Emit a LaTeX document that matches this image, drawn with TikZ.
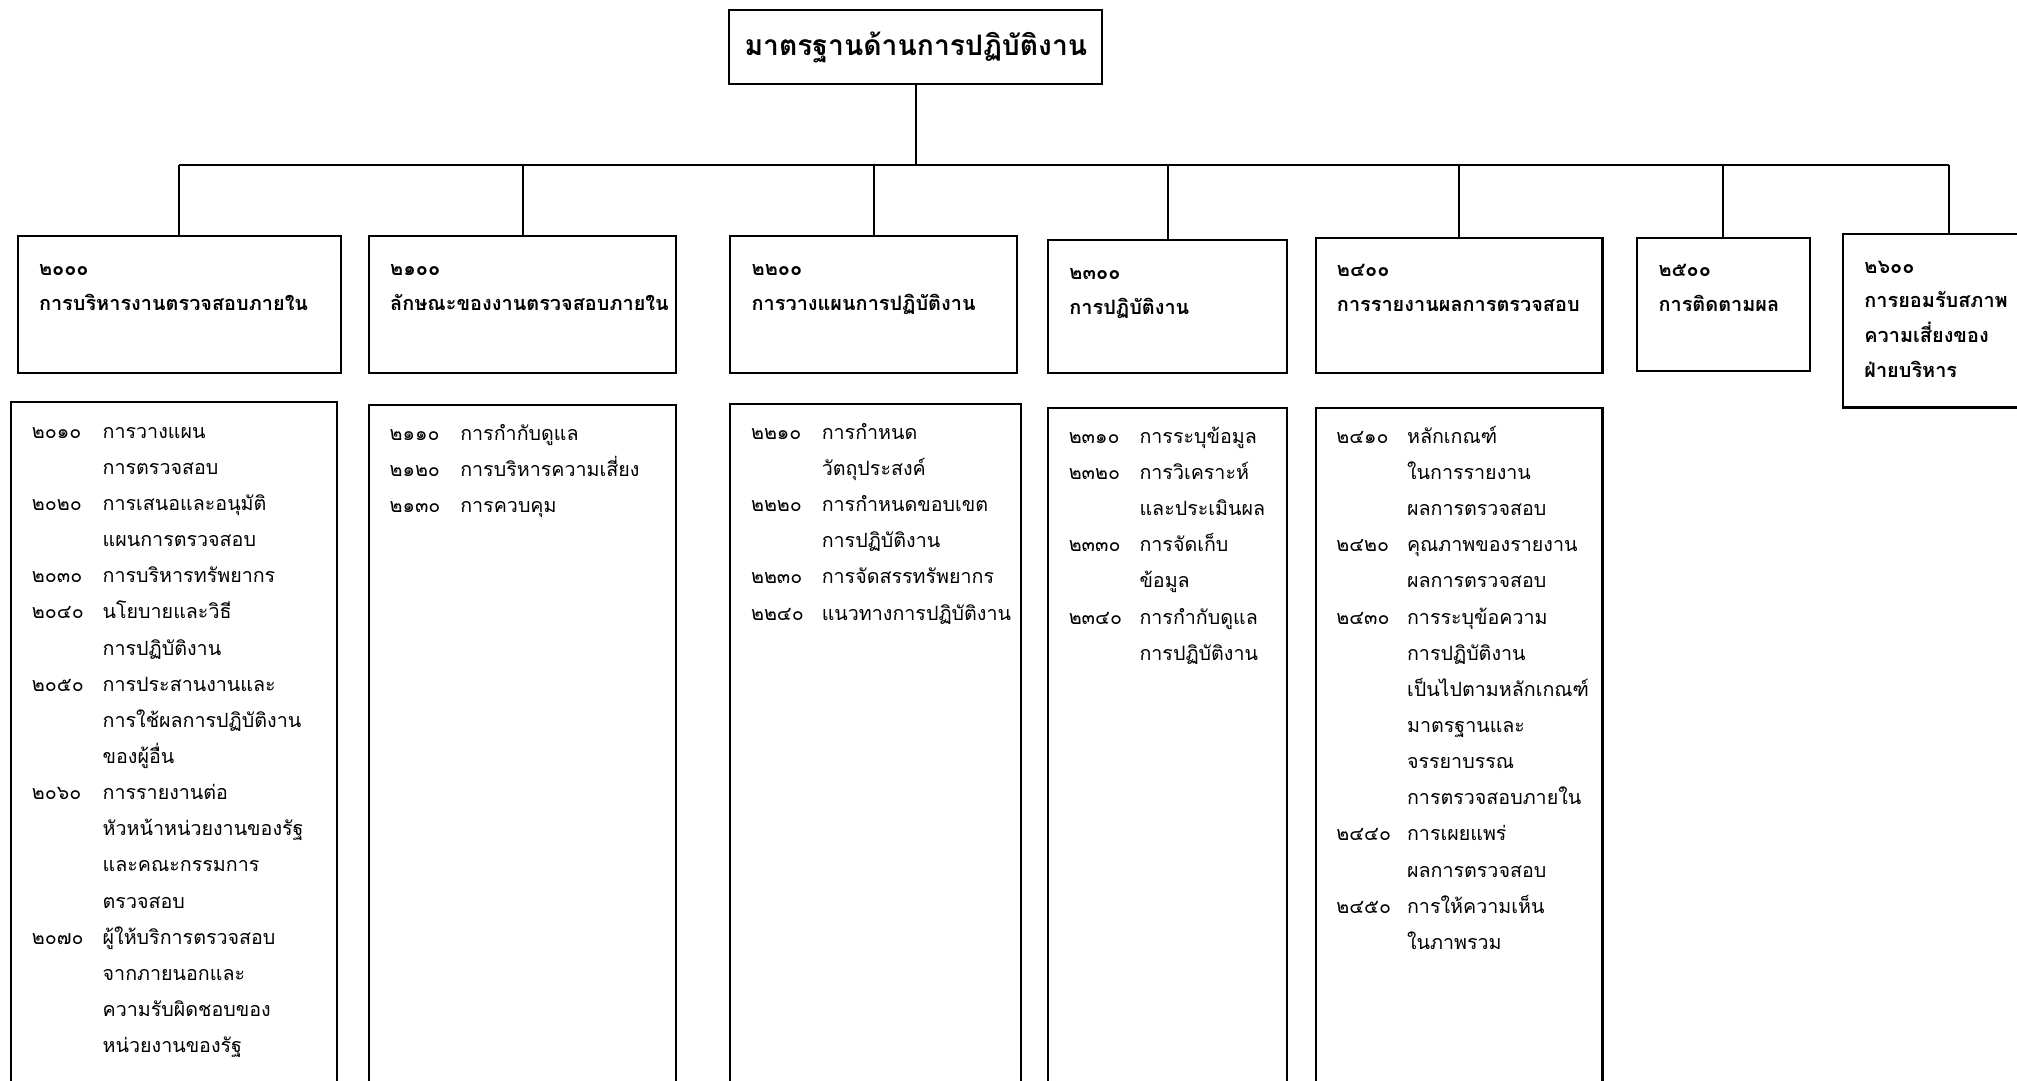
\documentclass[tikz,border=0pt]{standalone}
\usepackage{fontspec}
\newfontfamily\thai[Script=Thai]{Loma}
\usetikzlibrary{positioning}

\tikzset{
    conn/.style={line width=0.9pt},
    headbox/.style={draw, line width=0.9pt, minimum width=5.8cm, minimum height=1.14cm, inner sep=0pt,
        font=\thai\bfseries\fontsize{12.5}{16}\selectfont},
    upbox/.style={draw, line width=0.9pt, anchor=north west, inner sep=0pt},
    lowbox/.style={draw, line width=0.9pt, anchor=north west, inner sep=0pt, minimum height=12cm},
    uptext/.style={anchor=north west, inner sep=0pt, xshift=0.34cm, yshift=-0.24cm,
        font=\thai\bfseries\fontsize{8.8}{15.4}\selectfont},
    lowtext/.style={anchor=north west, inner sep=0pt, xshift=0.33cm, yshift=-0.17cm,
        font=\thai\fontsize{8.7}{16}\selectfont},
}

\begin{document}
\begin{tikzpicture}[x=0.02cm, y=-0.02cm]
    \useasboundingbox (0,0) rectangle (1568,840);
    \clip (0,0) rectangle (1568,840);

    % top of the tree
    \node[headbox] (head) at (712,36.5) {มาตรฐานด้านการปฏิบัติงาน};

    % upper row
    \node[upbox, minimum width=5.02cm, minimum height=2.12cm] (b2000) at (13,183) {};
    \node[upbox, minimum width=4.78cm, minimum height=2.12cm] (b2100) at (286,183) {};
    \node[upbox, minimum width=4.46cm, minimum height=2.12cm] (b2200) at (567,183) {};
    \node[upbox, minimum width=3.72cm, minimum height=2.06cm] (b2300) at (814,186) {};
    \node[upbox, minimum width=4.46cm, minimum height=2.10cm] (b2400) at (1022,184) {};
    \node[upbox, minimum width=2.68cm, minimum height=2.08cm] (b2500) at (1272,184) {};
    \node[upbox, minimum width=3.28cm, minimum height=2.70cm] (b2600) at (1432,181) {};

    \node[uptext] (t2000) at (b2000.north west) {\begin{tabular}{@{}l@{}}๒๐๐๐\\การบริหารงานตรวจสอบภายใน\end{tabular}};
    \node[uptext] (t2100) at (b2100.north west) {\begin{tabular}{@{}l@{}}๒๑๐๐\\ลักษณะของงานตรวจสอบภายใน\end{tabular}};
    \node[uptext] (t2200) at (b2200.north west) {\begin{tabular}{@{}l@{}}๒๒๐๐\\การวางแผนการปฏิบัติงาน\end{tabular}};
    \node[uptext] (t2300) at (b2300.north west) {\begin{tabular}{@{}l@{}}๒๓๐๐\\การปฏิบัติงาน\end{tabular}};
    \node[uptext] (t2400) at (b2400.north west) {\begin{tabular}{@{}l@{}}๒๔๐๐\\การรายงานผลการตรวจสอบ\end{tabular}};
    \node[uptext] (t2500) at (b2500.north west) {\begin{tabular}{@{}l@{}}๒๕๐๐\\การติดตามผล\end{tabular}};
    \node[uptext] (t2600) at (b2600.north west) {\begin{tabular}{@{}l@{}}๒๖๐๐\\การยอมรับสภาพ\\ความเสี่ยงของ\\ฝ่ายบริหาร\end{tabular}};

    % connectors
    \coordinate (bus) at (712,128);
    \draw[conn] (head.south) -- (head.south |- bus);
    \draw[conn] (b2000.north |- bus) -- (b2600.north |- bus);
    \foreach \b in {b2000,b2100,b2200,b2300,b2400,b2500,b2600}
        \draw[conn] (\b.north |- bus) -- (\b.north);

    % lower row
    \node[lowbox, minimum width=5.06cm] (l2000) at (8,312) {};
    \node[lowbox, minimum width=4.78cm] (l2100) at (286,314) {};
    \node[lowbox, minimum width=4.52cm] (l2200) at (567,313) {};
    \node[lowbox, minimum width=3.72cm] (l2300) at (814,316) {};
    \node[lowbox, minimum width=4.46cm] (l2400) at (1022,316) {};

    \node[lowtext] (s2000) at (l2000.north west) {\begin{tabular}{@{}p{1.1cm}@{}l@{}}
        ๒๐๑๐ & การวางแผน\\
             & การตรวจสอบ\\
        ๒๐๒๐ & การเสนอและอนุมัติ\\
             & แผนการตรวจสอบ\\
        ๒๐๓๐ & การบริหารทรัพยากร\\
        ๒๐๔๐ & นโยบายและวิธี\\
             & การปฏิบัติงาน\\
        ๒๐๕๐ & การประสานงานและ\\
             & การใช้ผลการปฏิบัติงาน\\
             & ของผู้อื่น\\
        ๒๐๖๐ & การรายงานต่อ\\
             & หัวหน้าหน่วยงานของรัฐ\\
             & และคณะกรรมการ\\
             & ตรวจสอบ\\
        ๒๐๗๐ & ผู้ให้บริการตรวจสอบ\\
             & จากภายนอกและ\\
             & ความรับผิดชอบของ\\
             & หน่วยงานของรัฐ
    \end{tabular}};
    \node[lowtext] (s2100) at (l2100.north west) {\begin{tabular}{@{}p{1.1cm}@{}l@{}}
        ๒๑๑๐ & การกำกับดูแล\\
        ๒๑๒๐ & การบริหารความเสี่ยง\\
        ๒๑๓๐ & การควบคุม
    \end{tabular}};
    \node[lowtext] (s2200) at (l2200.north west) {\begin{tabular}{@{}p{1.1cm}@{}l@{}}
        ๒๒๑๐ & การกำหนด\\
             & วัตถุประสงค์\\
        ๒๒๒๐ & การกำหนดขอบเขต\\
             & การปฏิบัติงาน\\
        ๒๒๓๐ & การจัดสรรทรัพยากร\\
        ๒๒๔๐ & แนวทางการปฏิบัติงาน
    \end{tabular}};
    \node[lowtext] (s2300) at (l2300.north west) {\begin{tabular}{@{}p{1.1cm}@{}l@{}}
        ๒๓๑๐ & การระบุข้อมูล\\
        ๒๓๒๐ & การวิเคราะห์\\
             & และประเมินผล\\
        ๒๓๓๐ & การจัดเก็บ\\
             & ข้อมูล\\
        ๒๓๔๐ & การกำกับดูแล\\
             & การปฏิบัติงาน
    \end{tabular}};
    \node[lowtext] (s2400) at (l2400.north west) {\begin{tabular}{@{}p{1.1cm}@{}l@{}}
        ๒๔๑๐ & หลักเกณฑ์\\
             & ในการรายงาน\\
             & ผลการตรวจสอบ\\
        ๒๔๒๐ & คุณภาพของรายงาน\\
             & ผลการตรวจสอบ\\
        ๒๔๓๐ & การระบุข้อความ\\
             & การปฏิบัติงาน\\
             & เป็นไปตามหลักเกณฑ์\\
             & มาตรฐานและ\\
             & จรรยาบรรณ\\
             & การตรวจสอบภายใน\\
        ๒๔๔๐ & การเผยแพร่\\
             & ผลการตรวจสอบ\\
        ๒๔๕๐ & การให้ความเห็น\\
             & ในภาพรวม
    \end{tabular}};
\end{tikzpicture}
\end{document}
